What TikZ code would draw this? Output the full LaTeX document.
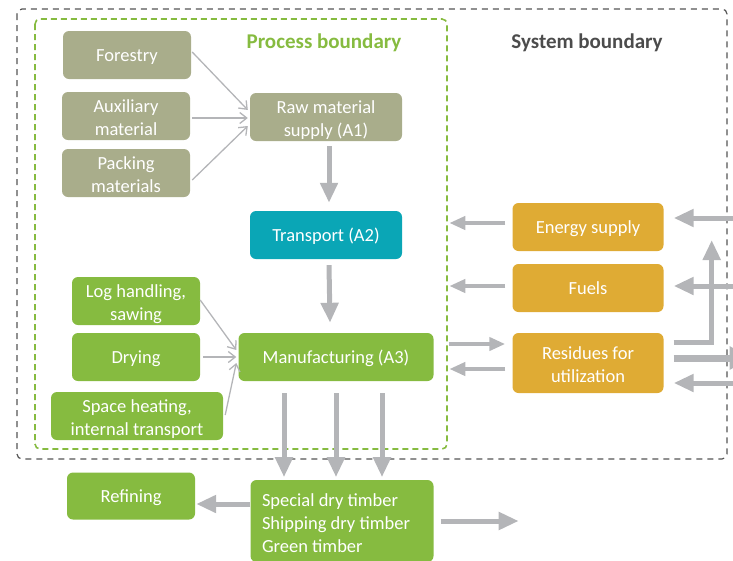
\documentclass[tikz,border=0pt]{standalone}
\usepackage{fontspec}
\setmainfont{Carlito}
\usetikzlibrary{arrows.meta, calc}

\definecolor{olivegrey}{RGB}{169,173,139}
\definecolor{tealblue}{RGB}{10,166,182}
\definecolor{leafgreen}{RGB}{134,187,64}
\definecolor{amber}{RGB}{223,171,52}
\definecolor{arrowgrey}{RGB}{180,181,184}
\definecolor{framegrey}{RGB}{85,85,85}

\begin{document}
\begin{tikzpicture}[
    x=1pt, y=-1pt,
    % Node styles
    procbox/.style={
        rectangle,
        rounded corners=6pt,
        draw=none,
        text=white,
        minimum width=128pt,
        minimum height=48pt,
        inner sep=2pt,
        font=\fontsize{18.5}{23}\selectfont,
        align=center,
        execute at begin node={\rule{0pt}{17pt}},
        execute at end node={\rule[-5pt]{0pt}{0pt}}
    },
    twolines/.style={
        text width=#1,
        align=flush center,
        inner ysep=0pt,
        execute at begin node={\rule{0pt}{20pt}}
    },
    olivebox/.style={procbox, fill=olivegrey},
    tealbox/.style={procbox, fill=tealblue},
    greenbox/.style={procbox, fill=leafgreen},
    amberbox/.style={procbox, fill=amber},
    framelabel/.style={
        font=\fontsize{21}{24}\selectfont\bfseries
    },
    thinarrow/.style={
        -{Straight Barb[length=7pt, width=11pt]},
        line width=1.3pt,
        arrowgrey
    },
    fatarrow/.style={
        -{Triangle[length=20pt, width=17pt]},
        line width=5pt,
        arrowgrey
    },
    smallarrow/.style={
        -{Triangle[length=16pt, width=13pt]},
        line width=4pt,
        arrowgrey
    }
]
\useasboundingbox (0,0) rectangle (733,560);

% === Boundaries ===
\draw[framegrey, line width=1.2pt, dash pattern=on 6pt off 5pt, rounded corners=5pt]
    (17,9) rectangle (727,459);
\draw[leafgreen, line width=1.6pt, dash pattern=on 6pt off 4pt, rounded corners=5pt]
    (35,19) rectangle (447,449);
\node[framelabel, text=leafgreen] (proclabel) at (324,43) {Process boundary};
\node[framelabel, text=framegrey!90!black] (syslabel) at (587,43) {System boundary};

% === Raw material (top) ===
\node[olivebox] (forestry) at (127,55) {Forestry};
\node[olivebox, twolines=120pt] (auxiliary) at (126,116) {Auxiliary\\material};
\node[olivebox, twolines=120pt] (packing) at (126,173) {Packing\\materials};
\node[olivebox, twolines=146pt, minimum width=152pt] (raw) at (326,117) {Raw material\\supply (A1)};
\node[tealbox, minimum width=152pt] (transport) at (326,235) {Transport (A2)};

% === Manufacturing ===
\node[greenbox, twolines=120pt] (logging) at (136,301) {Log handling,\\sawing};
\node[greenbox] (drying) at (136,357) {Drying};
\node[greenbox, twolines=166pt, minimum width=172pt] (heating) at (137,416) {Space heating,\\internal transport};
\node[greenbox, minimum width=195pt] (manufacturing) at (336,357) {Manufacturing (A3)};

% === Products ===
\node[greenbox, minimum height=47pt] (refining) at (131,496) {Refining};
\node[greenbox, minimum width=183pt, minimum height=82pt, align=flush left, text width=160pt,
    execute at begin node={\rule{0pt}{21pt}}]
    (timber) at (342,521) {Special dry timber\\Shipping dry timber\\Green timber};

% === Energy and residues (right) ===
\node[amberbox, minimum width=151pt] (energy) at (588,227) {Energy supply};
\node[amberbox, minimum width=151pt] (fuels) at (588,288) {Fuels};
\node[amberbox, twolines=145pt, minimum width=151pt, minimum height=60pt] (residues) at (588,363) {Residues for\\utilization};

% === Arrows: inputs ===
\draw[thinarrow] ($(forestry.east)+(1,-3)$) -- ($(raw.west)+(-2,-7)$);
\draw[thinarrow] ($(auxiliary.east)+(2,2)$) -- ($(raw.west)+(-2,1)$);
\draw[thinarrow] ($(packing.east)+(2,7)$) -- ($(raw.west)+(-2,9)$);
\draw[thinarrow] ($(logging.east)+(0,-1)$) -- ($(manufacturing.west)+(-2,-7)$);
\draw[thinarrow] ($(drying.east)+(3,0)$) -- ($(manufacturing.west)+(-2,0)$);
\draw[thinarrow] ($(heating.east)+(2,-1)$) -- ($(manufacturing.west)+(-2,6)$);

% === Arrows: main chain ===
\draw[fatarrow] ($(raw.south)+(3,5)$) -- ($(transport.north)+(3,-8)$);
\draw[fatarrow] ($(transport.south)+(3,6)$) -- ($(manufacturing.north)+(-6,-10)$);
\foreach \dx in {-52,0,46}
    \draw[fatarrow] ($(manufacturing.south)+(\dx,12)$) -- ($(manufacturing.south)+(\dx,96)$);
\draw[fatarrow] ($(timber.west)+(0,-17)$) -- ($(refining.east)+(1,8)$);
\draw[fatarrow] ($(timber.east)+(7,0)$) -- ++(78,0);

% === Arrows: energy and residues ===
\draw[smallarrow] ($(energy.west)+(-7,-4)$) -- ++(-56,0);
\draw[smallarrow] ($(fuels.west)+(-7,-2)$) -- ++(-56,0);
\draw[smallarrow] ($(residues.west)+(-63,-19)$) -- ++(56,0);
\draw[smallarrow] ($(residues.west)+(-7,6)$) -- ++(-56,0);

\draw[fatarrow] ($(energy.east)+(80,-9)$) -- ++(-70,0);
\draw[fatarrow] ($(fuels.east)+(80,-2)$) -- ++(-70,0);
\draw[fatarrow] ($(residues.east)+(10,-21)$) -| ++(38,-102);
\draw[fatarrow, line width=7pt, -{Triangle[length=22pt, width=22pt]}] ($(residues.east)+(10,-5)$) -- ++(78,0);
\draw[fatarrow] ($(residues.east)+(80,20)$) -- ++(-70,0);

\end{tikzpicture}
\end{document}
